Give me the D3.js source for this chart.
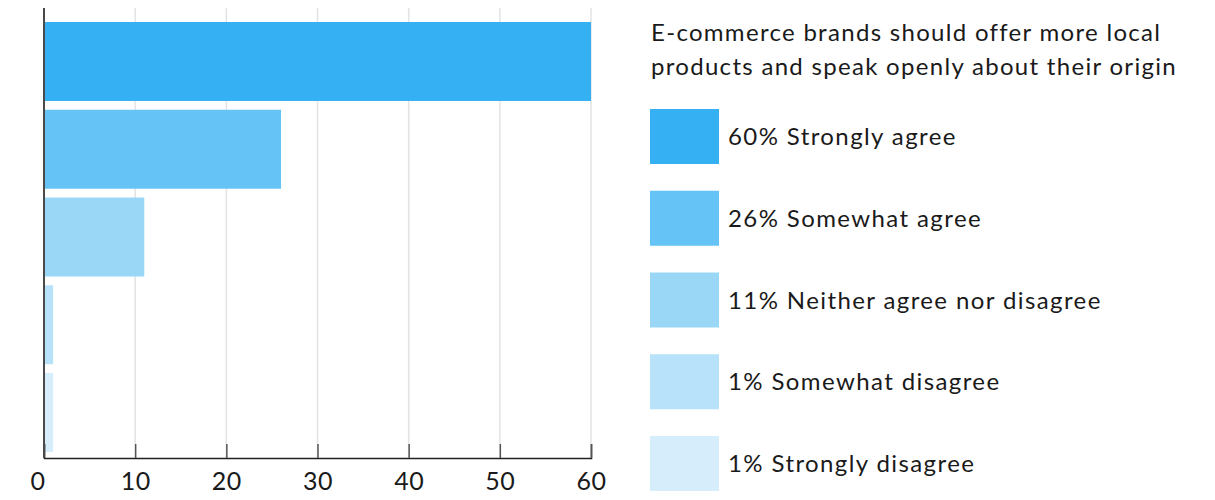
<!DOCTYPE html>
<html>
<head>
<meta charset="utf-8">
<script src="https://cdn.jsdelivr.net/npm/d3@7"></script>
<style>
  html, body { margin: 0; padding: 0; background: #fff; }
  svg { display: block; font-family: Lato, "Noto Sans", sans-serif; }
</style>
</head>
<body>
<svg id="chart" width="1215" height="500"></svg>
<script>
// Survey responses
const categories = ["Strongly agree", "Somewhat agree", "Neither agree nor disagree", "Somewhat disagree", "Strongly disagree"];
const values = [60, 26, 11, 1, 1];
const colors = ["#35b0f2", "#65c3f5", "#9ad7f7", "#b7e2f9", "#d6eefb"];
const xTicks = [0, 10, 20, 30, 40, 50, 60];
const titleLines = ["E-commerce brands should offer more local", "products and speak openly about their origin"];

const svg = d3.select("#chart");

const plot = { left: 44, right: 591, top: 8, bottom: 458 };

const x = d3.scaleLinear().domain([0, 60]).range([plot.left, plot.right]);
const y = d3.scaleBand().domain(categories).range([22, 452]).paddingInner(0.1).paddingOuter(0);

// vertical gridlines
svg.append("g")
  .selectAll("line")
  .data(xTicks.filter(t => t > 0))
  .join("line")
  .attr("x1", d => x(d)).attr("x2", d => x(d))
  .attr("y1", plot.top).attr("y2", plot.bottom)
  .attr("stroke", "#e3e3e3")
  .attr("stroke-width", 1.5);

// bars
svg.append("g")
  .selectAll("rect")
  .data(categories)
  .join("rect")
  .attr("x", x(0))
  .attr("y", d => y(d))
  .attr("width", (d, i) => x(values[i]) - x(0))
  .attr("height", y.bandwidth())
  .attr("fill", (d, i) => colors[i]);

// bottom axis, ticks pointing up into the plot
const xAxis = d3.axisBottom(x).tickValues(xTicks).tickSize(-14).tickPadding(14).tickFormat(d3.format("d"));
const gx = svg.append("g")
  .attr("transform", `translate(0,${plot.bottom})`)
  .call(xAxis);
gx.select(".domain").attr("stroke", "#222").attr("stroke-width", 1.5);
gx.selectAll(".tick line").attr("stroke", "#555").attr("stroke-width", 1.5);
gx.selectAll(".tick text")
  .attr("fill", "#1a1a1a")
  .attr("font-size", 25)
  .attr("letter-spacing", 0.5)
  .attr("font-family", "Lato, 'Noto Sans', sans-serif");
// keep the zero label inside the left edge
gx.selectAll(".tick text").filter(d => d === 0).attr("text-anchor", "end").attr("x", 1);

// left axis line
svg.append("line")
  .attr("x1", plot.left).attr("x2", plot.left)
  .attr("y1", plot.top).attr("y2", plot.bottom)
  .attr("stroke", "#4a4a4a")
  .attr("stroke-width", 2);

// legend
const legend = svg.append("g").attr("transform", "translate(650,0)");
legend.selectAll("text.title")
  .data(titleLines)
  .join("text")
  .attr("class", "title")
  .attr("x", 1)
  .attr("y", (d, i) => 41 + i * 34)
  .attr("font-size", 24)
  .attr("letter-spacing", 1.3)
  .attr("fill", "#1a1a1a")
  .text(d => d);

const item = legend.selectAll("g.item")
  .data(categories)
  .join("g")
  .attr("class", "item")
  .attr("transform", (d, i) => `translate(0,${109 + i * 81.75})`);
item.append("rect")
  .attr("width", 69).attr("height", 55)
  .attr("fill", (d, i) => colors[i]);
item.append("text")
  .attr("x", 78)
  .attr("y", 36)
  .attr("font-size", 24)
  .attr("letter-spacing", 1.4)
  .attr("fill", "#1a1a1a")
  .text((d, i) => `${values[i]}% ${d}`);
</script>
</body>
</html>
